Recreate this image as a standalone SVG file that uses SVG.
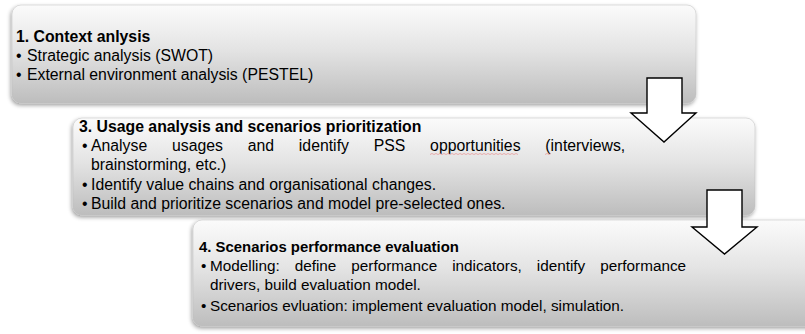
<svg xmlns="http://www.w3.org/2000/svg" width="805" height="334" viewBox="0 0 805 334">
<defs>
<linearGradient id="g" x1="0" y1="0" x2="0" y2="1">
<stop offset="0" stop-color="#fbfbfb"/>
<stop offset="0.45" stop-color="#e4e4e4"/>
<stop offset="1" stop-color="#bdbdbd"/>
</linearGradient>
<filter id="sh" x="-5%" y="-10%" width="110%" height="125%">
<feGaussianBlur in="SourceAlpha" stdDeviation="2"/>
<feOffset dx="-1" dy="2" result="b"/>
<feComponentTransfer><feFuncA type="linear" slope="0.4"/></feComponentTransfer>
<feMerge><feMergeNode/><feMergeNode in="SourceGraphic"/></feMerge>
</filter>
</defs>
<style>
.box{fill:url(#g);stroke:#bcbcbc;stroke-width:0.5;filter:url(#sh)}
text{font-family:"Liberation Sans",Arial,sans-serif;font-size:15.8px;fill:#000}
.s{font-size:15.3px}
.ts{font-size:14.9px}
.t{font-weight:bold}
.arr{fill:#fff;stroke:#000;stroke-width:1.4;stroke-linejoin:miter}
.sq{fill:none;stroke:#e79a9a;stroke-width:0.8}
</style>
<g id="box1">
<rect class="box" x="12" y="5" width="684" height="98" rx="9"/>
<text class="t" x="16" y="42">1. Context anlysis</text>
<text x="16" y="61">•</text><text x="27" y="61">Strategic analysis (SWOT)</text>
<text x="16" y="80">•</text><text x="27" y="80">External environment analysis (PESTEL)</text>
</g>
<g id="box3">
<rect class="box" x="73" y="118" width="682" height="97" rx="9"/>
<text class="t" x="79" y="132">3. Usage analysis and scenarios prioritization</text>
<text x="82" y="151">•</text><text x="91" y="151" word-spacing="20.4">Analyse usages and identify PSS opportunities (interviews,</text>
<path class="sq" d="M430,154.5 l2,-1 l2,1 l2,-1 l2,1 l2,-1 l2,1 l2,-1 l2,1 l2,-1 l2,1 l2,-1 l2,1 l2,-1 l2,1 l2,-1 l2,1 l2,-1 l2,1 l2,-1 l2,1 l2,-1 l2,1 l2,-1 l2,1 l2,-1 l2,1 l2,-1 l2,1 l2,-1 l2,1 l2,-1 l2,1 l2,-1 l2,1 l2,-1 l2,1 l2,-1 l2,1 l2,-1 l2,1 l2,-1 l2,1 l2,-1 l2,1 M545,154.5 l2,-1 l2,1 l2,-1"/>
<text x="91" y="170">brainstorming, etc.)</text>
<text x="82" y="190">•</text><text x="91" y="190">Identify value chains and organisational changes.</text>
<text x="82" y="209">•</text><text x="91" y="209">Build and prioritize scenarios and model pre-selected ones.</text>
</g>
<g id="box4">
<rect class="box" x="193" y="220" width="682" height="106" rx="9"/>
<text class="t ts" x="199" y="252">4. Scenarios performance evaluation</text>
<text class="s" x="201" y="271">•</text><text class="s" x="210" y="271" word-spacing="10.7">Modelling: define performance indicators, identify performance</text>
<text class="s" x="210" y="290">drivers, build evaluation model.</text>
<text class="s" x="201" y="311">•</text><text class="s" x="210" y="311">Scenarios evluation: implement evaluation model, simulation.</text>
</g>
<g id="connectors">
<polygon class="arr" points="647,78 682,78 682,113 696,113 664,142 631,113 647,113"/>
<polygon class="arr" points="707,190 742,190 742,227 757,227 724.5,254 692,227 707,227"/>
</g>
</svg>
